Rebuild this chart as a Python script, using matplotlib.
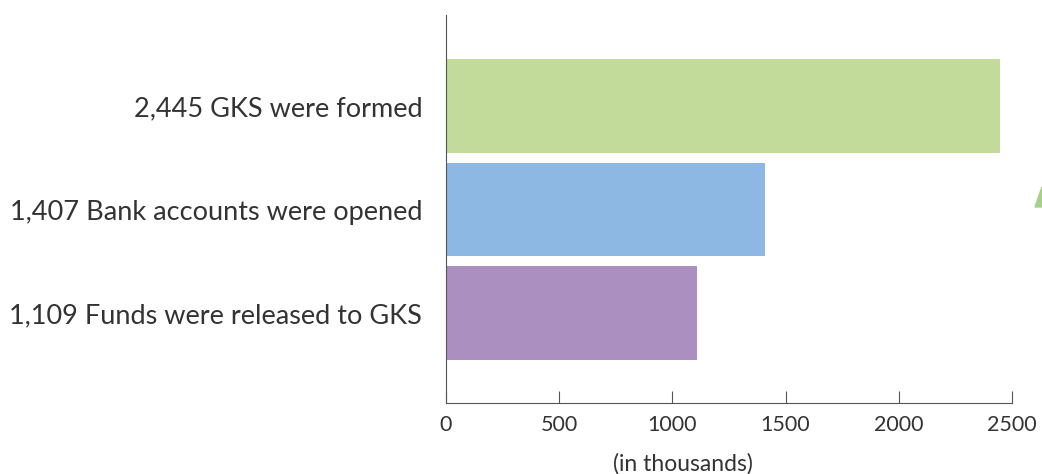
import matplotlib
matplotlib.use("Agg")
import matplotlib.pyplot as plt
from matplotlib.patches import Polygon

categories = [
    "2,445 GKS were formed",
    "1,407 Bank accounts were opened",
    "1,109 Funds were released to GKS",
]
values = [2445, 1407, 1109]
colors = ["#c2db9a", "#8db8e3", "#ab8fc0"]
xticks = [0, 500, 1000, 1500, 2000, 2500]

plt.rcParams["font.family"] = ["Lato", "DejaVu Sans"]
text_color = "#333333"

fig = plt.figure(figsize=(10.42, 4.74), dpi=100)
ax = fig.add_axes([0.428, 0.1498, 0.5432, 0.8186])

ypos = list(range(len(categories)))
ax.barh(ypos, values, height=0.9, color=colors)

ax.set_xlim(0, 2500)
ax.set_ylim(2.87, -0.88)
ax.set_yticks(ypos)
ax.set_yticklabels(categories, fontsize=19.5, color=text_color)
ax.tick_params(axis="y", length=0, pad=17)
ax.set_xticks(xticks)
ax.set_xticklabels([str(t) for t in xticks], fontsize=15.5, color=text_color)
ax.tick_params(axis="x", direction="in", length=9, width=0.8, color="#555555", pad=9)
ax.set_xlabel("(in thousands)", fontsize=16.5, color=text_color)
ax.xaxis.set_label_coords(0.419, -0.13)

for side in ("top", "right"):
    ax.spines[side].set_visible(False)
for side in ("left", "bottom"):
    ax.spines[side].set_color("#555555")
    ax.spines[side].set_linewidth(0.8)

# decorative pointer partly cut off at the right edge
W, H = 1042, 474
tri = Polygon([(1035 / W, 1 - 207 / H), (1042 / W, 1 - 187 / H), (1042 / W, 1 - 207 / H)],
              closed=True, transform=fig.transFigure, color="#a9cf8c", clip_on=False)
fig.patches.append(tri)

fig.savefig("out.png", dpi=100)
